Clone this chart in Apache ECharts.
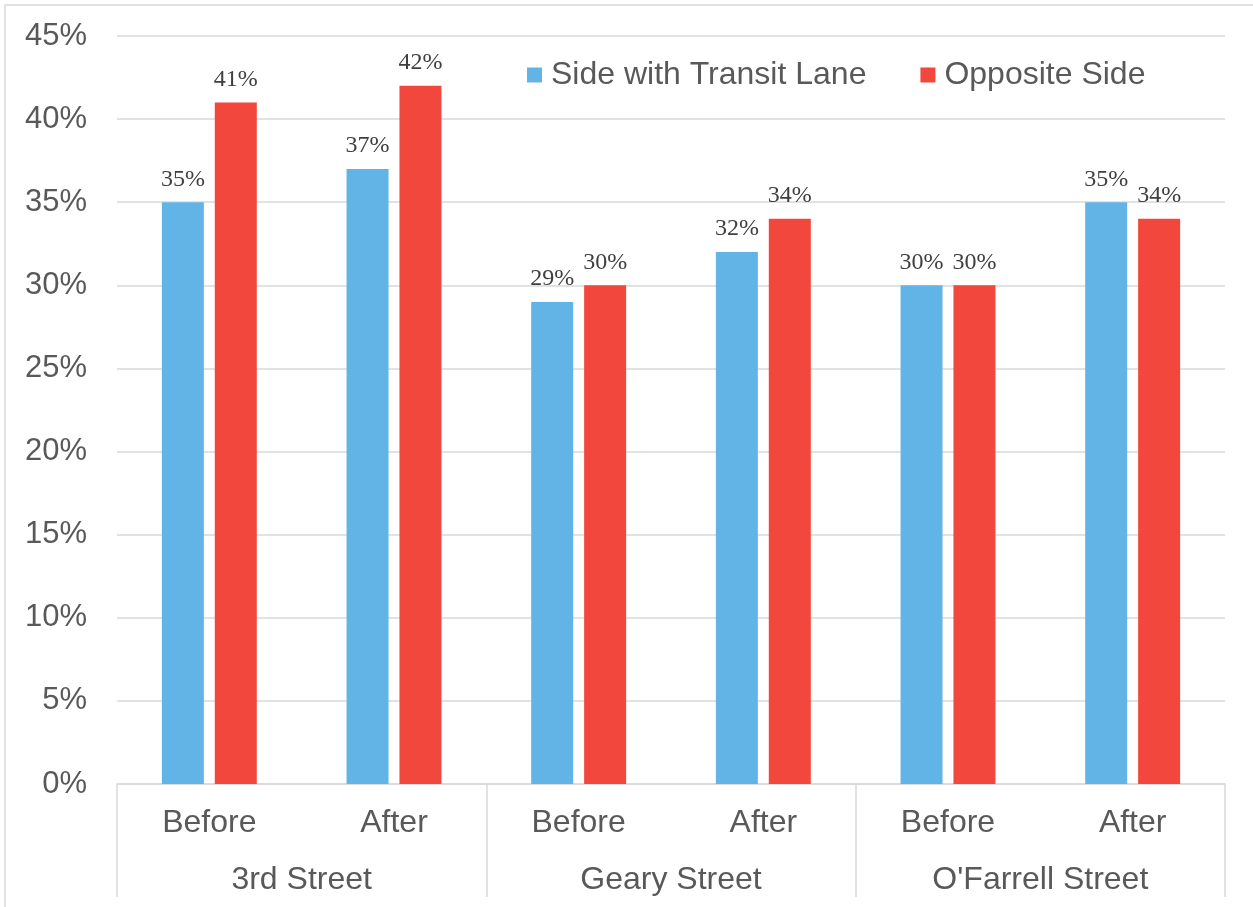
<!DOCTYPE html>
<html><head><meta charset="utf-8">
<script src="https://cdn.jsdelivr.net/npm/echarts@6/dist/echarts.min.js"></script>
<style>html,body{margin:0;padding:0;background:#fff}#c{width:1253px;height:907px}</style>
</head><body><div id="c"></div>
<script>
const periods = ['Before','After','Before','After','Before','After'];
const streets = ['3rd Street','Geary Street',"O'Farrell Street"];
const transitSide = [35,37,29,32,30,35];
const oppositeSide = [41,42,30,34,30,34];
const seriesNames = ['Side with Transit Lane','Opposite Side'];

const chart = echarts.init(document.getElementById('c'));
const labelStyle = {show:true,position:'top',distance:11,formatter:'{c}%',fontFamily:'Liberation Serif',fontSize:24,color:'#404040'};
chart.setOption({
  animation:false,
  graphic:[{type:'rect',shape:{x:5,y:5,width:1300,height:950},style:{fill:'none',stroke:'#D9D9D9',lineWidth:1.5},silent:true}],
  legend:{top:54,left:522,itemWidth:15,itemHeight:15,itemGap:54,icon:'rect',
    textStyle:{fontFamily:'Liberation Sans',fontSize:32,color:'#595959',padding:[0,0,0,4]},
    data:seriesNames},
  grid:{left:117,right:28,top:36,bottom:123},
  xAxis:[
    {type:'category',data:periods,position:'bottom',
     axisLine:{show:true,lineStyle:{color:'#D9D9D9',width:1.5}},
     axisTick:{show:false},
     axisLabel:{margin:23,fontFamily:'Liberation Sans',fontSize:32,color:'#595959'}},
    {type:'category',data:streets,position:'bottom',
     axisLine:{show:false},
     axisTick:{show:true,length:113,lineStyle:{color:'#D9D9D9',width:1.5}},
     axisLabel:{margin:80,fontFamily:'Liberation Sans',fontSize:32,color:'#595959'}}
  ],
  yAxis:{type:'value',min:0,max:45,interval:5,
    axisLine:{show:false},axisTick:{show:false},
    splitLine:{lineStyle:{color:'#D9D9D9',width:1.5}},
    axisLabel:{formatter:'{value}%',margin:30,fontFamily:'Liberation Sans',fontSize:31,color:'#595959'}},
  series:[
    {name:seriesNames[0],type:'bar',xAxisIndex:0,data:transitSide,barWidth:42,barGap:'26%',
     itemStyle:{color:'#62B4E6'},label:labelStyle},
    {name:seriesNames[1],type:'bar',xAxisIndex:0,data:oppositeSide,barWidth:42,barGap:'26%',
     itemStyle:{color:'#F2473D'},label:labelStyle}
  ]
});
</script></body></html>
